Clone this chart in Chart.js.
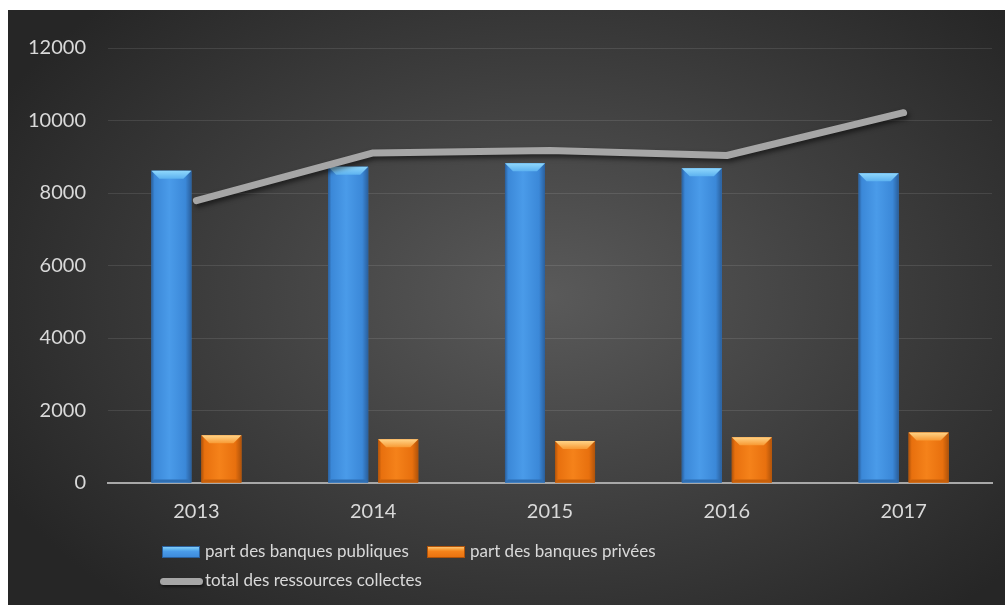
<!DOCTYPE html>
<html>
<head>
<meta charset="utf-8">
<script src="https://cdn.jsdelivr.net/npm/chart.js@4.4.0/dist/chart.umd.min.js"></script>
<style>
  html, body { margin: 0; padding: 0; background: #ffffff; }
  #wrap {
    position: absolute; left: 8px; top: 10px; width: 997px; height: 595px;
    background: radial-gradient(ellipse 62% 70% at 54% 48%, #5a5a5a 0%, #3d3d3d 55%, #262626 100%);
    overflow: hidden;
  }
  #c { position: absolute; left: 0; top: 0; }
  .lg { position: absolute; font-family: Lato, "Open Sans", sans-serif; font-size: 17px; color: #d9d9d9; white-space: nowrap; line-height: 20px; }
  .mk { position: absolute; }
</style>
</head>
<body>
<div id="wrap">
  <canvas id="c" width="997" height="595"></canvas>
  <div id="legend"></div>
</div>
<script>
const categories = ['2013', '2014', '2015', '2016', '2017'];
const seriesLabels = ['part des banques publiques', 'part des banques privées', 'total des ressources collectes'];
const publiques = [8615, 8725, 8820, 8685, 8545];
const privees = [1315, 1205, 1160, 1265, 1395];
const total = [7790, 9105, 9170, 9035, 10215];
const yMin = 0, yMax = 12000, yStep = 2000;

const palettes = {
  blue:   { dark: '#2a5f9c', mid: '#3b88d8', light: '#4a9be9', bevTop: '#90d8fc', bevBot: '#5db2f0', bottom: '#2f6fb3' },
  orange: { dark: '#b0530a', mid: '#e8700e', light: '#f5821a', bevTop: '#ffd488', bevBot: '#f89a34', bottom: '#c8600a' }
};

const bevelPlugin = {
  id: 'bevel',
  afterDatasetDraw(chart, args) {
    const meta = args.meta;
    if (meta.type !== 'bar') return;
    const ds = chart.data.datasets[meta.index];
    const pal = palettes[ds.paletteKey];
    const ctx = chart.ctx;
    ctx.save();
    meta.data.forEach(el => {
      const p = el.getProps(['x', 'y', 'base', 'width'], true);
      const l = p.x - p.width / 2, r = p.x + p.width / 2, t = p.y, b = p.base;
      const g = ctx.createLinearGradient(l, 0, r, 0);
      g.addColorStop(0, pal.dark);
      g.addColorStop(0.08, pal.mid);
      g.addColorStop(0.45, pal.light);
      g.addColorStop(0.85, pal.mid);
      g.addColorStop(1, pal.dark);
      ctx.fillStyle = g;
      ctx.fillRect(l, t, r - l, b - t);
      const bv = Math.min(8, p.width / 4, (b - t) / 2);
      const gt = ctx.createLinearGradient(0, t, 0, t + bv);
      gt.addColorStop(0, pal.bevTop);
      gt.addColorStop(1, pal.bevBot);
      ctx.beginPath();
      ctx.moveTo(l, t); ctx.lineTo(r, t); ctx.lineTo(r - bv, t + bv); ctx.lineTo(l + bv, t + bv);
      ctx.closePath();
      ctx.fillStyle = gt;
      ctx.fill();
      ctx.beginPath();
      ctx.moveTo(l, b); ctx.lineTo(r, b); ctx.lineTo(r - 3, b - 3); ctx.lineTo(l + 3, b - 3);
      ctx.closePath();
      ctx.fillStyle = pal.bottom;
      ctx.fill();
    });
    ctx.restore();
  }
};

const shadowPlugin = {
  id: 'lineShadow',
  beforeDatasetDraw(chart, args) {
    if (args.meta.type !== 'line') return;
    const ctx = chart.ctx;
    ctx.save();
    ctx.shadowColor = 'rgba(0,0,0,0.55)';
    ctx.shadowBlur = 5;
    ctx.shadowOffsetX = 2;
    ctx.shadowOffsetY = 3;
  },
  afterDatasetDraw(chart, args) {
    if (args.meta.type !== 'line') return;
    chart.ctx.restore();
  }
};

const tickFont = { family: 'Lato, "Open Sans", sans-serif', size: 20 };

new Chart(document.getElementById('c'), {
  type: 'bar',
  data: {
    labels: categories,
    datasets: [
      {
        type: 'line', label: seriesLabels[2], data: total, order: 0,
        borderColor: '#a6a6a6', borderWidth: 7, borderCapStyle: 'round', borderJoinStyle: 'round',
        pointRadius: 0, tension: 0, fill: false
      },
      {
        type: 'bar', label: seriesLabels[0], data: publiques, order: 1, paletteKey: 'blue',
        backgroundColor: '#3b88d8', categoryPercentage: 0.566, barPercentage: 0.8
      },
      {
        type: 'bar', label: seriesLabels[1], data: privees, order: 1, paletteKey: 'orange',
        backgroundColor: '#e8700e', categoryPercentage: 0.566, barPercentage: 0.8
      }
    ]
  },
  options: {
    responsive: false,
    animation: false,
    layout: { padding: { top: 38, right: 13, left: 0, bottom: 0 } },
    plugins: { legend: { display: false }, tooltip: { enabled: false } },
    scales: {
      x: {
        offset: true,
        grid: { display: false },
        border: { display: true, color: '#a8a8a8', width: 2 },
        ticks: { color: '#d9d9d9', font: tickFont, padding: 9 },
        afterFit(scale) { scale.height = 122; }
      },
      y: {
        min: yMin, max: yMax,
        ticks: { stepSize: yStep, color: '#d9d9d9', font: tickFont, padding: 22, callback: v => String(v) },
        grid: {
          drawTicks: false,
          color: ctx => (ctx.tick && ctx.tick.value === 0) ? 'rgba(0,0,0,0)' : 'rgba(255,255,255,0.10)',
          lineWidth: 1
        },
        border: { display: false },
        afterFit(scale) { scale.width = 100; }
      }
    }
  },
  plugins: [bevelPlugin, shadowPlugin]
});

const legend = document.getElementById('legend');
const items = [
  { text: seriesLabels[0], kind: 'blue', mx: 154, tx: 197, cy: 542 },
  { text: seriesLabels[1], kind: 'orange', mx: 419, tx: 462, cy: 542 },
  { text: seriesLabels[2], kind: 'line', mx: 152, tx: 197, cy: 571 }
];
items.forEach(it => {
  const mk = document.createElement('div');
  mk.className = 'mk';
  if (it.kind === 'line') {
    Object.assign(mk.style, { left: it.mx + 'px', top: (it.cy - 3.5) + 'px', width: '43px', height: '7px',
      borderRadius: '4px', background: '#a6a6a6', boxShadow: '1px 2px 3px rgba(0,0,0,0.5)' });
  } else {
    const pal = palettes[it.kind];
    Object.assign(mk.style, { left: it.mx + 'px', top: (it.cy - 6) + 'px', width: '38px', height: '12px',
      background: `linear-gradient(to bottom, ${pal.bevTop} 0%, ${pal.bevBot} 30%, ${pal.light} 45%, ${pal.mid} 100%)`,
      boxShadow: `inset 0 0 0 1px ${pal.dark}` });
  }
  legend.appendChild(mk);
  const tx = document.createElement('div');
  tx.className = 'lg';
  tx.textContent = it.text;
  Object.assign(tx.style, { left: it.tx + 'px', top: (it.cy - 11) + 'px' });
  legend.appendChild(tx);
});
</script>
</body>
</html>
